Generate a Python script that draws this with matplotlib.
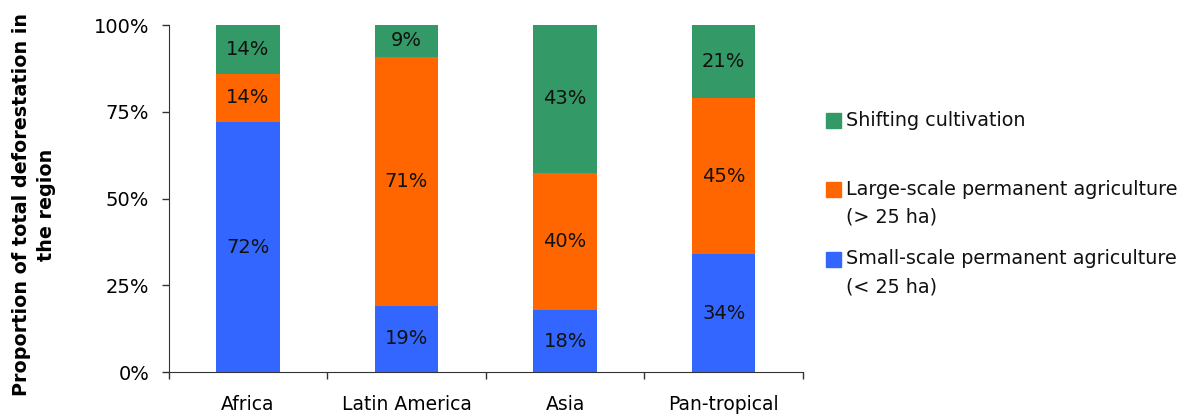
import numpy as np
import matplotlib.pyplot as plt
import matplotlib.ticker as mtick
from matplotlib.patches import Rectangle

plt.rcParams['font.family'] = ['DejaVu Sans']

regions = ['Africa', 'Latin America', 'Asia', 'Pan-tropical']
small_scale = [72, 19, 18, 34]
large_scale = [14, 71, 40, 45]
shifting = [14, 9, 43, 21]

series = [
    ('Small-scale permanent agriculture\n(< 25 ha)', small_scale, '#3366FF'),
    ('Large-scale permanent agriculture\n(> 25 ha)', large_scale, '#FF6600'),
    ('Shifting cultivation', shifting, '#339966'),
]

# 100% stacked: each column is scaled to its own total
totals = np.array(small_scale) + np.array(large_scale) + np.array(shifting)

W, H = 1195, 417
fig = plt.figure(figsize=(W / 100, H / 100), dpi=100)
ax = fig.add_axes([168.7 / W, 1 - 372.3 / H, 634.3 / W, 347.3 / H])

x = np.arange(len(regions))
bottom = np.zeros(len(regions))
for name, vals, col in series:
    share = np.array(vals) / totals * 100
    ax.bar(x, share, width=0.40, bottom=bottom, color=col, label=name)
    for xi, b, s, v in zip(x, bottom, share, vals):
        ax.text(xi, b + s / 2, '{}%'.format(v), ha='center', va='center',
                fontsize=14, color='#111111')
    bottom += share

ax.set_xlim(-0.5, len(regions) - 0.5)
ax.set_ylim(0, 100)
ax.set_yticks([0, 25, 50, 75, 100])
ax.yaxis.set_major_formatter(mtick.PercentFormatter(decimals=0))

# ticks on category boundaries, labels at the centres
ax.set_xticks(np.arange(-0.5, len(regions), 1.0))
ax.set_xticklabels([])
ax.set_xticks(x, minor=True)
ax.set_xticklabels(regions, minor=True)
ax.tick_params(axis='x', which='major', direction='out', length=5, width=1,
               color='#333333')
ax.tick_params(axis='x', which='minor', length=0, pad=16, labelsize=13.5)
ax.tick_params(axis='y', direction='out', length=5, width=1, labelsize=14,
               pad=9, color='#333333')

for side in ['top', 'right']:
    ax.spines[side].set_visible(False)
ax.spines['left'].set_color('#333333')
ax.spines['bottom'].set_color('#333333')

fig.text(34 / W, 1 - 205 / H, 'Proportion of total deforestation in\nthe region',
         rotation=90, ha='center', va='center', fontsize=13.8, fontweight='bold',
         multialignment='center', linespacing=1.45)

# legend drawn by hand so the square sits beside the first line
leg_y = [259, 189.5, 120]
line_step = 27.7
for (name, vals, col), yy in zip(series, leg_y):
    fig.patches.append(Rectangle((826 / W, 1 - (yy + 7.5) / H), 15 / W, 15 / H,
                                 transform=fig.transFigure, color=col))
    for k, line in enumerate(name.split('\n')):
        fig.text(846 / W, 1 - (yy + k * line_step) / H, line, ha='left',
                 va='center', fontsize=13.8, color='#111111')

plt.savefig('out.png', dpi=100)
